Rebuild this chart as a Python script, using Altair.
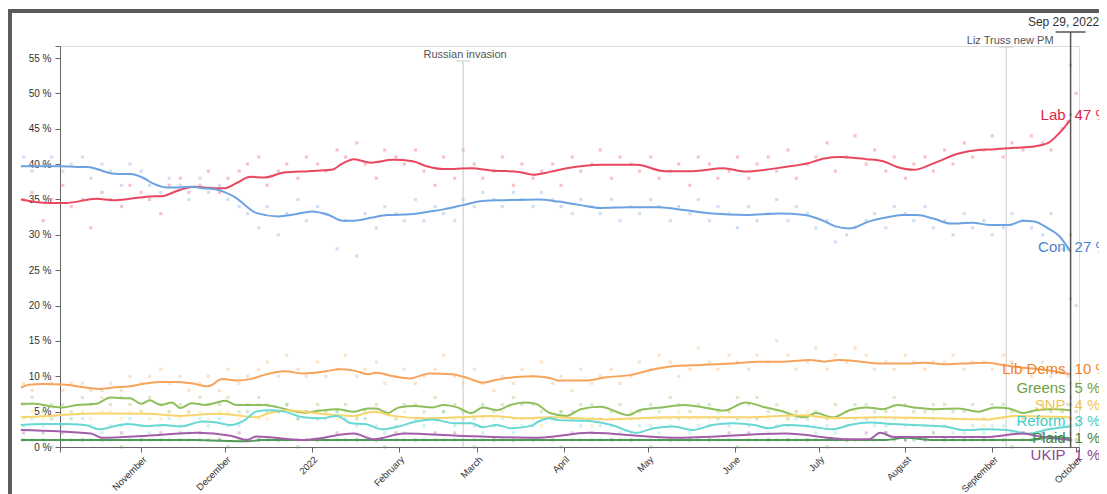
import altair as alt
import pandas as pd

# ---------------- data ----------------
parties = ["Lab", "Con", "Lib Dems", "Greens", "SNP", "Reform", "Plaid", "UKIP"]
line_colors = ["#e8475f", "#6ca2e0", "#f6a45c", "#8dbf5b", "#f8d46c", "#67d8d2", "#4f9a57", "#a45ea8"]
label_colors = ["#dc1f45", "#4b82c8", "#f08228", "#6e9f3e", "#f2c552", "#3fcdc5", "#3f8447", "#8c4a90"]
final_pct = [47, 27, 10, 5, 4, 3, 1, 1]

trend_lab = [("2021-09-19", 35.0), ("2021-09-29", 34.5), ("2021-10-05", 34.5), ("2021-10-16", 35.1),
             ("2021-10-22", 34.9), ("2021-10-28", 35.1), ("2021-11-03", 35.4), ("2021-11-09", 35.5),
             ("2021-11-13", 36.1), ("2021-11-20", 36.8), ("2021-11-27", 36.6), ("2021-12-01", 36.6),
             ("2021-12-05", 37.3), ("2021-12-10", 38.2), ("2021-12-15", 38.1), ("2021-12-22", 38.8),
             ("2021-12-31", 39.0), ("2022-01-08", 39.2), ("2022-01-12", 40.1), ("2022-01-16", 40.7),
             ("2022-01-22", 40.2), ("2022-01-30", 40.6), ("2022-02-06", 40.4), ("2022-02-11", 39.7),
             ("2022-02-17", 39.3), ("2022-02-27", 39.4), ("2022-03-06", 39.1), ("2022-03-16", 38.9),
             ("2022-03-21", 38.5), ("2022-03-27", 38.9), ("2022-04-02", 39.4), ("2022-04-14", 39.9),
             ("2022-04-27", 39.9), ("2022-05-07", 39.0), ("2022-05-17", 39.0), ("2022-05-28", 39.4),
             ("2022-06-05", 38.95), ("2022-06-12", 39.2), ("2022-06-19", 39.6), ("2022-06-27", 40.1),
             ("2022-07-03", 40.8), ("2022-07-09", 41.0), ("2022-07-18", 40.7), ("2022-07-24", 40.4),
             ("2022-07-29", 39.6), ("2022-08-04", 39.2), ("2022-08-11", 40.1), ("2022-08-20", 41.5),
             ("2022-08-27", 42.0), ("2022-09-02", 42.1), ("2022-09-09", 42.3), ("2022-09-16", 42.5),
             ("2022-09-21", 43.0), ("2022-09-25", 44.4), ("2022-09-29", 46.3)]

trend_con = [("2021-09-19", 39.7), ("2021-10-03", 39.7), ("2021-10-09", 39.6), ("2021-10-13", 39.6),
             ("2021-10-17", 39.2), ("2021-10-21", 38.7), ("2021-10-24", 38.6), ("2021-10-28", 38.6),
             ("2021-11-02", 38.0), ("2021-11-05", 37.3), ("2021-11-10", 36.7), ("2021-11-15", 36.7),
             ("2021-11-19", 36.8), ("2021-11-23", 36.6), ("2021-11-28", 36.4), ("2021-12-01", 36.0),
             ("2021-12-05", 35.2), ("2021-12-09", 33.9), ("2021-12-12", 33.1), ("2021-12-20", 32.6),
             ("2021-12-26", 32.9), ("2022-01-01", 33.3), ("2022-01-07", 32.8), ("2022-01-12", 32.0),
             ("2022-01-16", 32.0), ("2022-01-22", 32.4), ("2022-01-28", 32.8), ("2022-02-05", 32.9),
             ("2022-02-12", 33.3), ("2022-02-17", 33.6), ("2022-02-24", 34.2), ("2022-03-03", 34.8),
             ("2022-03-11", 34.9), ("2022-03-23", 35.0), ("2022-03-30", 34.7), ("2022-04-07", 34.2),
             ("2022-04-14", 33.8), ("2022-04-24", 33.9), ("2022-05-05", 33.9), ("2022-05-14", 33.5),
             ("2022-05-24", 33.0), ("2022-06-05", 32.8), ("2022-06-17", 33.0), ("2022-06-26", 32.8),
             ("2022-07-02", 32.1), ("2022-07-07", 31.2), ("2022-07-12", 30.9), ("2022-07-19", 31.9),
             ("2022-07-27", 32.6), ("2022-07-31", 32.8), ("2022-08-05", 32.8), ("2022-08-11", 32.3),
             ("2022-08-17", 31.6), ("2022-08-25", 31.7), ("2022-08-31", 31.4), ("2022-09-07", 31.4),
             ("2022-09-12", 32.0), ("2022-09-16", 31.9), ("2022-09-21", 30.9), ("2022-09-25", 29.8),
             ("2022-09-29", 27.6)]

trend_ld = [("2021-09-19", 8.4), ("2021-09-22", 8.8), ("2021-09-27", 8.9), ("2021-10-04", 8.85),
            ("2021-10-09", 8.6), ("2021-10-17", 8.2), ("2021-10-22", 8.4), ("2021-10-28", 8.6),
            ("2021-11-03", 9.0), ("2021-11-08", 9.2), ("2021-11-13", 9.2), ("2021-11-19", 9.0),
            ("2021-11-25", 8.6), ("2021-11-30", 9.6), ("2021-12-05", 9.4), ("2021-12-10", 9.6),
            ("2021-12-15", 10.2), ("2021-12-22", 10.7), ("2021-12-29", 10.4), ("2022-01-06", 10.7),
            ("2022-01-11", 11.0), ("2022-01-16", 10.8), ("2022-01-21", 10.3), ("2022-01-24", 10.5),
            ("2022-01-30", 10.0), ("2022-02-05", 9.7), ("2022-02-12", 10.4), ("2022-02-20", 10.3),
            ("2022-02-26", 9.7), ("2022-03-03", 9.1), ("2022-03-08", 9.5), ("2022-03-16", 9.95),
            ("2022-03-21", 10.0), ("2022-03-27", 9.75), ("2022-03-30", 9.4), ("2022-04-09", 9.4),
            ("2022-04-16", 9.85), ("2022-04-25", 10.2), ("2022-05-02", 10.9), ("2022-05-11", 11.45),
            ("2022-05-20", 11.6), ("2022-05-31", 11.8), ("2022-06-10", 12.07), ("2022-06-19", 12.07),
            ("2022-06-28", 12.3), ("2022-07-03", 12.07), ("2022-07-08", 12.3), ("2022-07-16", 12.07),
            ("2022-07-23", 11.8), ("2022-07-31", 11.8), ("2022-08-08", 11.9), ("2022-08-15", 11.7),
            ("2022-08-22", 11.8), ("2022-08-30", 11.9), ("2022-09-05", 11.6), ("2022-09-12", 11.2),
            ("2022-09-18", 11.0), ("2022-09-29", 10.3)]

trend_greens = [("2021-09-19", 6.1), ("2021-09-24", 6.1), ("2021-09-29", 5.8), ("2021-10-04", 5.6),
                ("2021-10-09", 5.95), ("2021-10-16", 6.1), ("2021-10-21", 7.0), ("2021-10-25", 6.9),
                ("2021-10-28", 6.9), ("2021-11-01", 6.1), ("2021-11-04", 6.6), ("2021-11-08", 5.95),
                ("2021-11-12", 6.3), ("2021-11-15", 5.5), ("2021-11-19", 6.2), ("2021-11-24", 5.95),
                ("2021-11-28", 6.3), ("2021-12-01", 6.55), ("2021-12-05", 5.95), ("2021-12-10", 5.95),
                ("2021-12-15", 5.95), ("2021-12-20", 5.6), ("2021-12-26", 5.0), ("2021-12-29", 4.85),
                ("2022-01-04", 5.15), ("2022-01-10", 5.35), ("2022-01-16", 5.0), ("2022-01-21", 5.45),
                ("2022-01-24", 5.45), ("2022-01-28", 4.8), ("2022-02-01", 5.6), ("2022-02-07", 5.8),
                ("2022-02-13", 5.6), ("2022-02-17", 5.95), ("2022-02-22", 5.6), ("2022-02-27", 4.8),
                ("2022-03-03", 5.6), ("2022-03-08", 5.2), ("2022-03-13", 5.95), ("2022-03-18", 6.3),
                ("2022-03-22", 6.1), ("2022-03-27", 4.8), ("2022-04-02", 4.4), ("2022-04-07", 5.35),
                ("2022-04-14", 5.7), ("2022-04-24", 4.5), ("2022-04-28", 5.2), ("2022-05-06", 5.6),
                ("2022-05-14", 5.95), ("2022-05-21", 5.6), ("2022-05-28", 5.15), ("2022-06-05", 6.3),
                ("2022-06-11", 5.7), ("2022-06-17", 5.15), ("2022-06-26", 4.2), ("2022-06-30", 4.8),
                ("2022-07-06", 4.2), ("2022-07-12", 5.2), ("2022-07-18", 5.6), ("2022-07-24", 5.35),
                ("2022-07-29", 5.95), ("2022-08-04", 5.6), ("2022-08-11", 5.35), ("2022-08-20", 5.45),
                ("2022-08-27", 5.0), ("2022-09-02", 5.6), ("2022-09-07", 5.45), ("2022-09-12", 4.8),
                ("2022-09-16", 5.15), ("2022-09-23", 5.35), ("2022-09-29", 5.2)]

trend_snp = [("2021-09-19", 4.2), ("2021-09-29", 4.4), ("2021-10-16", 4.75), ("2021-11-03", 4.7),
             ("2021-11-15", 4.4), ("2021-11-28", 4.7), ("2021-12-05", 4.5), ("2021-12-12", 4.2),
             ("2021-12-17", 4.85), ("2021-12-23", 5.2), ("2021-12-29", 5.0), ("2022-01-10", 4.5),
             ("2022-01-16", 4.4), ("2022-01-23", 5.0), ("2022-01-30", 4.4), ("2022-02-10", 4.05),
             ("2022-02-22", 4.2), ("2022-03-06", 4.4), ("2022-03-18", 4.05), ("2022-03-27", 4.2),
             ("2022-04-16", 3.9), ("2022-05-10", 4.2), ("2022-06-05", 4.2), ("2022-06-26", 4.5),
             ("2022-07-05", 4.1), ("2022-07-24", 4.2), ("2022-08-30", 3.9), ("2022-09-09", 4.4),
             ("2022-09-29", 4.2)]

trend_reform = [("2021-09-19", 3.1), ("2021-09-27", 3.25), ("2021-10-04", 3.25), ("2021-10-12", 3.1),
                ("2021-10-17", 2.5), ("2021-10-22", 2.9), ("2021-10-27", 3.25), ("2021-11-03", 2.95),
                ("2021-11-09", 3.1), ("2021-11-15", 2.9), ("2021-11-23", 3.6), ("2021-11-28", 3.45),
                ("2021-12-03", 3.1), ("2021-12-08", 3.8), ("2021-12-12", 5.0), ("2021-12-17", 5.2),
                ("2021-12-22", 5.0), ("2021-12-29", 4.2), ("2022-01-04", 4.05), ("2022-01-10", 4.4),
                ("2022-01-15", 3.35), ("2022-01-20", 3.25), ("2022-01-26", 2.5), ("2022-02-01", 2.9),
                ("2022-02-07", 3.6), ("2022-02-13", 3.9), ("2022-02-21", 3.35), ("2022-02-27", 3.35),
                ("2022-03-03", 2.8), ("2022-03-08", 3.1), ("2022-03-13", 2.65), ("2022-03-20", 2.95),
                ("2022-03-23", 3.6), ("2022-03-27", 4.05), ("2022-03-30", 3.8), ("2022-04-09", 3.7),
                ("2022-04-18", 3.1), ("2022-04-27", 2.0), ("2022-05-03", 2.65), ("2022-05-10", 2.9),
                ("2022-05-17", 2.4), ("2022-05-24", 3.1), ("2022-05-31", 3.35), ("2022-06-08", 3.1),
                ("2022-06-13", 2.65), ("2022-06-19", 3.1), ("2022-06-27", 2.95), ("2022-07-06", 2.5),
                ("2022-07-12", 3.1), ("2022-07-19", 3.45), ("2022-07-28", 3.25), ("2022-08-05", 3.1),
                ("2022-08-15", 2.9), ("2022-08-22", 2.4), ("2022-08-30", 2.5), ("2022-09-06", 2.4),
                ("2022-09-14", 1.9), ("2022-09-21", 2.5), ("2022-09-29", 2.9)]

trend_plaid = [("2021-09-19", 1.0), ("2021-11-20", 1.0), ("2021-12-09", 0.8), ("2021-12-14", 1.0),
               ("2022-03-01", 1.0), ("2022-07-25", 1.0), ("2022-08-01", 1.3), ("2022-08-10", 1.0),
               ("2022-09-15", 1.0), ("2022-09-22", 1.4), ("2022-09-29", 1.2)]

trend_ukip = [("2021-09-19", 2.4), ("2021-10-14", 1.9), ("2021-10-18", 1.3), ("2021-11-03", 1.6),
              ("2021-11-21", 2.0), ("2021-12-03", 1.6), ("2021-12-09", 1.0), ("2021-12-12", 1.5),
              ("2021-12-29", 1.0), ("2022-01-16", 1.9), ("2022-01-23", 1.1), ("2022-02-03", 1.9),
              ("2022-02-22", 1.6), ("2022-03-23", 1.3), ("2022-04-10", 2.0), ("2022-05-10", 1.3),
              ("2022-06-19", 1.9), ("2022-07-12", 1.1), ("2022-07-19", 1.1), ("2022-07-23", 2.0),
              ("2022-07-28", 1.4), ("2022-08-30", 1.4), ("2022-09-12", 1.9), ("2022-09-18", 1.5),
              ("2022-09-29", 1.0)]

trends = {"Lab": trend_lab, "Con": trend_con, "Lib Dems": trend_ld, "Greens": trend_greens,
          "SNP": trend_snp, "Reform": trend_reform, "Plaid": trend_plaid, "UKIP": trend_ukip}

# polls: two per week (Monday and Thursday), values per party in date order
poll_mondays = pd.date_range("2021-09-20", periods=54, freq="7D")
poll_dates = []
for m in poll_mondays:
    poll_dates += [m, m + pd.Timedelta(days=3)]
late_poll_dates = pd.to_datetime(["2022-09-28", "2022-09-29", "2022-10-01"])

polls_lab = [35, 36, 32, 35, 37, 34, 35, 31, 36, 35, 34, 37, 36, 35, 33, 37, 38, 36, 37, 39,
             36, 38, 39, 40, 41, 37, 39, 40, 38, 41, 40, 39, 42, 41, 43, 40, 38, 42, 41, 40,
             42, 39, 37, 41, 38, 42, 40, 38, 39, 41, 37, 40, 38, 39, 40, 37, 41, 39, 40, 42,
             38, 41, 40, 39, 41, 38, 39, 40, 37, 41, 40, 38, 39, 41, 38, 40, 41, 39, 42, 38,
             40, 41, 43, 39, 41, 44, 40, 42, 39, 41, 38, 40, 41, 39, 42, 40, 43, 41, 42, 44,
             41, 43, 42, 44, 43, 42, 45, 47]
polls_con = [41, 39, 40, 41, 39, 40, 41, 38, 40, 39, 37, 40, 39, 37, 36, 38, 37, 35, 38, 36,
             37, 35, 34, 33, 31, 34, 30, 33, 35, 32, 34, 33, 28, 32, 27, 33, 31, 34, 33, 32,
             35, 32, 34, 33, 32, 35, 34, 36, 35, 34, 36, 35, 34, 36, 35, 34, 33, 35, 34, 33,
             35, 32, 34, 33, 35, 34, 32, 34, 33, 35, 32, 34, 33, 31, 34, 32, 33, 35, 32, 34,
             33, 31, 32, 29, 30, 31, 32, 33, 31, 34, 33, 32, 34, 31, 32, 30, 33, 31, 32, 30,
             31, 33, 32, 31, 30, 33, 28, 30]
polls_ld = [9, 8, 10, 9, 8, 9, 9, 8, 7, 9, 8, 10, 9, 10, 11, 9, 10, 8, 9, 10,
            8, 11, 9, 10, 11, 12, 10, 13, 11, 10, 12, 10, 11, 13, 10, 11, 12, 9, 10, 11,
            9, 10, 11, 13, 10, 9, 11, 9, 8, 10, 9, 11, 10, 12, 9, 10, 8, 11, 9, 10,
            11, 9, 10, 12, 11, 13, 12, 10, 11, 14, 12, 11, 13, 12, 11, 13, 12, 15, 13, 11,
            12, 14, 11, 13, 12, 14, 13, 11, 12, 11, 13, 12, 11, 12, 12, 13, 11, 12, 12, 11,
            13, 12, 11, 10, 12, 10, 11, 9]
polls_greens = [6, 7, 5, 6, 6, 5, 7, 6, 8, 6, 7, 6, 5, 7, 6, 5, 6, 5, 7, 6,
                6, 7, 5, 6, 7, 6, 5, 6, 4, 5, 6, 5, 5, 6, 4, 5, 6, 5, 4, 6,
                6, 5, 7, 5, 6, 5, 4, 6, 5, 6, 7, 6, 6, 5, 4, 5, 5, 6, 6, 4,
                5, 6, 4, 5, 6, 5, 7, 6, 5, 6, 6, 5, 5, 7, 6, 7, 5, 6, 4, 5,
                4, 5, 4, 6, 5, 6, 6, 5, 5, 7, 6, 5, 5, 6, 6, 5, 5, 6, 4, 6,
                6, 5, 4, 5, 6, 5, 5, 6]
polls_snp = [4, 5, 4, 4, 5, 4, 5, 4, 5, 5, 4, 5, 5, 4, 4, 5, 4, 5, 5, 4,
             5, 5, 4, 5, 4, 4, 5, 6, 5, 5, 4, 5, 4, 5, 4, 4, 5, 5, 4, 5,
             4, 4, 4, 5, 4, 4, 5, 4, 4, 5, 4, 4, 4, 3, 4, 5, 4, 4, 3, 4,
             4, 4, 5, 4, 4, 4, 4, 5, 4, 4, 4, 4, 5, 4, 4, 4, 4, 5, 4, 5,
             5, 4, 4, 4, 4, 5, 4, 4, 4, 5, 4, 4, 4, 5, 4, 4, 4, 4, 3, 4,
             4, 5, 4, 5, 4, 4, 5, 4]
polls_reform = [3, 4, 3, 4, 3, 4, 4, 3, 2, 3, 3, 4, 3, 2, 3, 4, 3, 2, 4, 3,
                4, 3, 3, 5, 6, 5, 5, 6, 4, 5, 4, 4, 5, 4, 3, 4, 3, 2, 3, 2,
                4, 3, 4, 5, 3, 4, 3, 2, 3, 4, 2, 3, 3, 4, 4, 5, 4, 3, 4, 3,
                3, 2, 2, 3, 3, 2, 3, 4, 2, 3, 3, 4, 3, 4, 3, 4, 2, 3, 3, 4,
                3, 2, 3, 2, 3, 4, 4, 3, 3, 4, 3, 3, 3, 4, 3, 2, 2, 3, 2, 3,
                3, 2, 2, 1, 2, 3, 3, 3]
polls_plaid = [1, 1, 1, 0, 1, 1, 1, 1, 1, 1, 0, 1, 1, 1, 1, 1, 1, 1, 1, 1,
               1, 0, 1, 1, 1, 1, 1, 1, 0, 1, 1, 1, 1, 1, 1, 1, 1, 0, 1, 1,
               1, 1, 1, 1, 1, 1, 0, 1, 1, 1, 1, 1, 1, 1, 1, 0, 1, 1, 1, 1,
               1, 1, 1, 1, 0, 1, 1, 1, 1, 1, 1, 1, 1, 0, 1, 1, 1, 1, 1, 1,
               1, 1, 0, 1, 1, 1, 1, 1, 2, 1, 1, 1, 1, 2, 1, 1, 1, 1, 1, 1,
               1, 0, 1, 1, 1, 1, 1, 1]
polls_ukip_mondays = [2, 2, 2, 1, 1, 2, 1, 2, 2, 2, 1, 2, 1, 1, 1, 1, 2, 1, 1, 2,
                      1, 2, 2, 1, 1, 1, 1, 1, 2, 2, 1, 1, 1, 1, 1, 1, 2, 2, 1, 1,
                      1, 1, 1, 2, 2, 1, 1, 1, 1, 1, 1, 2, 2, 1]
late_polls = {"Lab": [46, 54, 50], "Con": [28, 21, 20], "Lib Dems": [10, 7, 9],
              "Greens": [6, 4, 5], "SNP": [4, 5, 4], "Reform": [3, 2, 3], "Plaid": [1, 1, 1]}
polls = {"Lab": polls_lab, "Con": polls_con, "Lib Dems": polls_ld, "Greens": polls_greens,
         "SNP": polls_snp, "Reform": polls_reform, "Plaid": polls_plaid}

events = ["Russian invasion", "Liz Truss new PM"]
event_dates = ["2022-02-24", "2022-09-06"]
cursor_date = "2022-09-29"
cursor_label = "Sep 29, 2022"

# ---------------- tables ----------------
trend_rows = []
for p in parties:
    for d, v in trends[p]:
        trend_rows.append({"party": p, "date": pd.Timestamp(d), "value": v})
trend_df = pd.DataFrame(trend_rows)

poll_rows = []
for p, vals in polls.items():
    for d, v in zip(poll_dates, vals):
        poll_rows.append({"party": p, "date": d, "value": v})
    for d, v in zip(late_poll_dates, late_polls[p]):
        poll_rows.append({"party": p, "date": d, "value": v})
for d, v in zip(poll_mondays, polls_ukip_mondays):
    poll_rows.append({"party": "UKIP", "date": d, "value": v})
poll_df = pd.DataFrame(poll_rows)

# end-label placement: dodge overlapping labels, centring each cluster on its values
GAP = 2.4  # label spacing in percentage points


def dodge(vals, gap):
    order = sorted(range(len(vals)), key=lambda i: -vals[i])
    clusters = [[i] for i in order]

    def layout(c):
        m = sum(vals[i] for i in c) / len(c)
        top = m + gap * (len(c) - 1) / 2
        return [top - gap * k for k in range(len(c))]

    changed = True
    while changed:
        changed = False
        for j in range(len(clusters) - 1):
            a, b = layout(clusters[j]), layout(clusters[j + 1])
            if a[-1] - b[0] < gap - 1e-9:
                clusters[j] = clusters[j] + clusters[j + 1]
                del clusters[j + 1]
                changed = True
                break
    pos = {}
    for c in clusters:
        for i, y in zip(c, layout(c)):
            pos[i] = y
    return [pos[i] for i in range(len(vals))]


end_vals = [trends[p][-1][1] for p in parties]
label_pos = dodge(end_vals, GAP)
label_df = pd.DataFrame({
    "party": parties,
    "date": pd.Timestamp(cursor_date),
    "value": label_pos,
    "pct": [f"{v} %" for v in final_pct],
})

event_df = pd.DataFrame({"label": events, "date": pd.to_datetime(event_dates)})
cursor_df = pd.DataFrame({"label": [cursor_label], "date": [pd.Timestamp(cursor_date)]})
one = pd.DataFrame({"k": [0]})

# ---------------- layout / style ----------------
W, H = 1019, 401
FONT = "Liberation Sans"
x_start = alt.DateTime(year=2021, month=10, date=3)
x_end = alt.DateTime(year=2022, month=10, date=2)
month_ticks = [alt.DateTime(year=2021, month=m, date=1) for m in (11, 12)] + \
              [alt.DateTime(year=2022, month=m, date=1) for m in range(1, 11)]

xscale = alt.Scale(domain=[x_start, x_end])
xaxis = alt.Axis(
    values=[x_start] + month_ticks + [x_end],
    labelExpr="date(datum.value) == 1 ? (month(datum.value) == 0 ? timeFormat(datum.value, '%Y') : timeFormat(datum.value, '%B')) : ''",
    labelAngle=315, labelOverlap=False, tickSize=5, labelPadding=2,
    labelFontSize=9.5, labelColor="#333", domainColor="#666", tickColor="#666",
    grid=False, title=None, labelFont=FONT,
)
yscale = alt.Scale(domain=[0, 56.7], nice=False, zero=True)
yaxis = alt.Axis(
    values=[0, 5, 10, 15, 20, 25, 30, 35, 40, 45, 50, 55, 56.7],
    labelExpr="datum.value > 56 ? '' : datum.value + ' %'",
    tickSize=5, labelPadding=4, labelFontSize=10, labelColor="#333",
    domainColor="#666", tickColor="#666", grid=False, title=None, labelFont=FONT,
)
X = alt.X("date:T", scale=xscale, axis=xaxis)
Y = alt.Y("value:Q", scale=yscale, axis=yaxis)
color = alt.Color("party:N", scale=alt.Scale(domain=parties, range=line_colors), legend=None)
label_color = alt.Color("party:N", scale=alt.Scale(domain=parties, range=label_colors), legend=None)

# frame (decoration at the page's top-left)
frame_left = alt.Chart(one).mark_rule(color="#5b5b5b", strokeWidth=4).encode(
    x=alt.value(-50), y=alt.value(-37), y2=alt.value(H + 60))
frame_top = alt.Chart(one).mark_rule(color="#5b5b5b", strokeWidth=4).encode(
    y=alt.value(-35), x=alt.value(-52), x2=alt.value(W + 60))

dots = alt.Chart(poll_df).mark_square(size=10, opacity=0.33).encode(x=X, y=Y, color=color)

event_tops = [15, 1]  # pixel tops of the event rules
event_dx = [2, 4]
event_layers = []
for (ev, top, dx) in zip(events, event_tops, event_dx):
    sub = event_df[event_df["label"] == ev]
    base = alt.Chart(sub)
    event_layers.append(base.mark_rule(color="#c8c8c8", strokeWidth=1).encode(
        x=X, y=alt.value(top), y2=alt.value(H)))
    event_layers.append(base.mark_rule(color="#c8c8c8", strokeWidth=1, xOffset=-7, x2Offset=7).encode(
        x=X, x2="date:T", y=alt.value(top)))
    event_layers.append(base.mark_text(font=FONT, fontSize=11, color="#555", align="center",
                                       baseline="alphabetic", dx=dx).encode(
        x=X, y=alt.value(top - 3), text="label:N"))

lines = alt.Chart(trend_df).mark_line(strokeWidth=2, interpolate="monotone").encode(
    x=X, y=Y, color=color, detail="party:N", order="date:T")

cursor_base = alt.Chart(cursor_df)
cursor_rule = cursor_base.mark_rule(color="#555", strokeWidth=1.5).encode(
    x=X, y=alt.value(-14), y2=alt.value(H))
cursor_cap = cursor_base.mark_rule(color="#555", strokeWidth=1.5, xOffset=-15, x2Offset=15).encode(
    x=X, x2="date:T", y=alt.value(-14))
cursor_text = cursor_base.mark_text(font=FONT, fontSize=12, color="#333", align="center",
                                    baseline="alphabetic", dx=-7).encode(
    x=X, y=alt.value(-20), text="label:N")

name_text = alt.Chart(label_df).mark_text(font=FONT, fontSize=15, align="right",
                                          baseline="alphabetic", dx=-5).encode(
    x=X, y=Y, text="party:N", color=label_color)
pct_text = alt.Chart(label_df).mark_text(font=FONT, fontSize=15, align="left",
                                         baseline="alphabetic", dx=4).encode(
    x=X, y=Y, text="pct:N", color=label_color)

chart = alt.layer(
    frame_left, frame_top, dots, *event_layers, lines,
    cursor_rule, cursor_cap, cursor_text, name_text, pct_text,
).resolve_scale(color="independent").properties(
    width=W, height=H,
    autosize=alt.AutoSizeParams(type="none"),
    padding={"left": 52, "top": 38, "right": 20, "bottom": 48},
).configure_view(stroke=None).configure(background="white")

chart.save("out.html", embed_options={"renderer": "svg", "actions": False})
